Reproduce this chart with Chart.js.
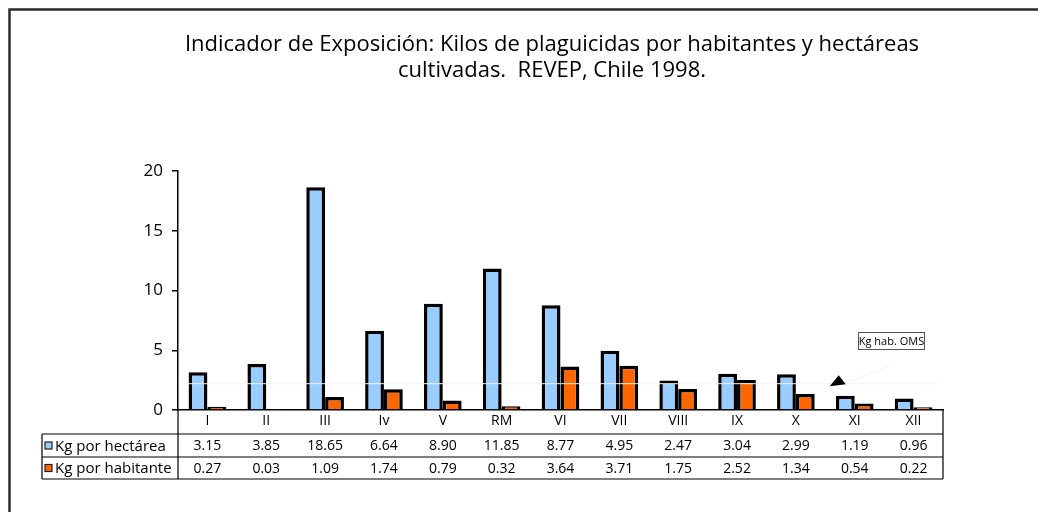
<!DOCTYPE html>
<html>
<head>
<meta charset="utf-8">
<script src="https://cdn.jsdelivr.net/npm/chart.js@4.4.0/dist/chart.umd.min.js"></script>
<style>
  html, body { margin: 0; padding: 0; background: #fff; }
  #wrap { width: 1038px; height: 512px; }
</style>
</head>
<body>
<div id="wrap"><canvas id="chart" width="1038" height="512"></canvas></div>
<script>
// Regiones de Chile, REVEP 1998
const categories = ['I', 'II', 'III', 'Iv', 'V', 'RM', 'VI', 'VII', 'VIII', 'IX', 'X', 'XI', 'XII'];
const kgHectarea = [3.15, 3.85, 18.65, 6.64, 8.90, 11.85, 8.77, 4.95, 2.47, 3.04, 2.99, 1.19, 0.96];
const kgHabitante = [0.27, 0.03, 1.09, 1.74, 0.79, 0.32, 3.64, 3.71, 1.75, 2.52, 1.34, 0.54, 0.22];
const yTicks = [0, 5, 10, 15, 20];
const seriesNames = ['Kg por hectárea', 'Kg por habitante'];
const omsLevel = 2.2; // linea de referencia (casi invisible en el original)

const FONT = '"Open Sans", "Noto Sans", sans-serif';
const BLUE = '#99CCFF';
const ORANGE = '#FF6600';

// draws frame, title, data table and the OMS note
const decorPlugin = {
  id: 'decor',
  beforeDraw(chart) {
    const ctx = chart.ctx;
    ctx.save();
    ctx.fillStyle = '#fff';
    ctx.fillRect(0, 0, chart.width, chart.height);
    ctx.restore();
  },
  afterDraw(chart) {
    const ctx = chart.ctx;
    const x = chart.scales.x;
    const y = chart.scales.y;
    const area = chart.chartArea;
    ctx.save();

    // outer frame (only top/left visible)
    ctx.strokeStyle = '#2b2b2b';
    ctx.lineWidth = 2.5;
    ctx.beginPath();
    ctx.moveTo(9.5, chart.height + 5);
    ctx.lineTo(9.5, 9.5);
    ctx.lineTo(chart.width + 5, 9.5);
    ctx.stroke();

    // title
    ctx.fillStyle = '#000';
    ctx.font = '22px ' + FONT;
    ctx.textAlign = 'center';
    ctx.textBaseline = 'middle';
    ctx.fillText('Indicador de Exposición: Kilos de plaguicidas por habitantes y hectáreas', 552, 45);
    ctx.fillText('cultivadas.  REVEP, Chile 1998.', 552, 71);

    // table
    const row0 = area.bottom;
    const row1 = row0 + 24;
    const row2 = row1 + 23;
    const row3 = row2 + 22;
    const tableLeft = 42;
    ctx.strokeStyle = '#000';
    ctx.lineWidth = 1.2;
    ctx.beginPath();
    ctx.moveTo(tableLeft, row1); ctx.lineTo(area.right, row1);
    ctx.moveTo(tableLeft, row2); ctx.lineTo(area.right, row2);
    ctx.moveTo(tableLeft, row3); ctx.lineTo(area.right, row3);
    ctx.moveTo(tableLeft, row1); ctx.lineTo(tableLeft, row3);
    ctx.moveTo(area.left, row0); ctx.lineTo(area.left, row3);
    ctx.moveTo(area.right, row0); ctx.lineTo(area.right, row3);
    ctx.stroke();

    const rows = [kgHectarea, kgHabitante];
    const colors = [BLUE, ORANGE];
    const mids = [(row1 + row2) / 2, (row2 + row3) / 2];
    rows.forEach((vals, r) => {
      // legend key
      ctx.fillStyle = colors[r];
      ctx.fillRect(45, mids[r] - 3.5, 7, 7);
      ctx.strokeStyle = '#222';
      ctx.lineWidth = 1.2;
      ctx.strokeRect(45, mids[r] - 3.5, 7, 7);
      ctx.fillStyle = '#000';
      ctx.font = '15px ' + FONT;
      ctx.textAlign = 'left';
      ctx.fillText(seriesNames[r], 55, mids[r] + 1);
      ctx.font = '14px ' + FONT;
      ctx.textAlign = 'center';
      vals.forEach((v, i) => {
        ctx.fillText(v.toFixed(2), x.getPixelForValue(i), mids[r] + 1);
      });
    });

    // OMS reference line (very faint) + note
    const yOms = y.getPixelForValue(omsLevel);
    ctx.strokeStyle = '#f3f3f3';
    ctx.lineWidth = 1;
    ctx.beginPath();
    ctx.moveTo(area.left + 4, yOms);
    ctx.lineTo(area.right - 4, yOms);
    ctx.moveTo(846, yOms - 1);
    ctx.lineTo(890, yOms - 18);
    ctx.stroke();

    const xi = x.getPixelForValue(11);
    ctx.fillStyle = '#000';
    ctx.beginPath();
    ctx.moveTo(xi - 16, yOms - 8.5);
    ctx.lineTo(xi - 25, yOms + 2.5);
    ctx.lineTo(xi - 9, yOms + 0.5);
    ctx.closePath();
    ctx.fill();

    ctx.fillStyle = '#fff';
    ctx.fillRect(858.5, 332.5, 66, 17);
    ctx.strokeStyle = '#555';
    ctx.lineWidth = 1;
    ctx.strokeRect(858.5, 332.5, 66, 17);
    ctx.fillStyle = '#000';
    ctx.font = '11px ' + FONT;
    ctx.textAlign = 'center';
    ctx.fillText('Kg hab. OMS', 891.5, 341.5);

    ctx.restore();
  }
};

const ctx = document.getElementById('chart').getContext('2d');
new Chart(ctx, {
  type: 'bar',
  data: {
    labels: categories,
    datasets: [
      {
        label: seriesNames[0],
        data: kgHectarea,
        backgroundColor: BLUE,
        borderColor: '#000',
        borderWidth: 3.5,
      },
      {
        label: seriesNames[1],
        data: kgHabitante,
        backgroundColor: ORANGE,
        borderColor: '#000',
        borderWidth: 3.5,
      },
    ],
  },
  options: {
    responsive: false,
    animation: false,
    devicePixelRatio: 1,
    layout: { padding: { left: 0, right: 95, top: 171, bottom: 78 } },
    datasets: { bar: { barPercentage: 1.0, categoryPercentage: 0.64 } },
    plugins: {
      legend: { display: false },
      title: { display: false },
      tooltip: { enabled: false },
    },
    scales: {
      x: {
        grid: { display: false, drawTicks: false },
        border: { display: true, color: '#000', width: 1.5 },
        ticks: { color: '#000', font: { family: FONT, size: 14 }, padding: 3, maxRotation: 0 },
        afterFit(s) { s.height = 24; },
      },
      y: {
        min: 0,
        max: 20,
        afterBuildTicks(s) { s.ticks = yTicks.map(v => ({ value: v })); },
        grid: { drawOnChartArea: false, drawTicks: true, tickLength: 6, color: '#000', lineWidth: 1.5 },
        border: { display: true, color: '#000', width: 1.5 },
        ticks: { color: '#000', font: { family: FONT, size: 17 }, padding: 9 },
        afterFit(s) { s.width = 178; },
      },
    },
  },
  plugins: [decorPlugin],
});
</script>
</body>
</html>
